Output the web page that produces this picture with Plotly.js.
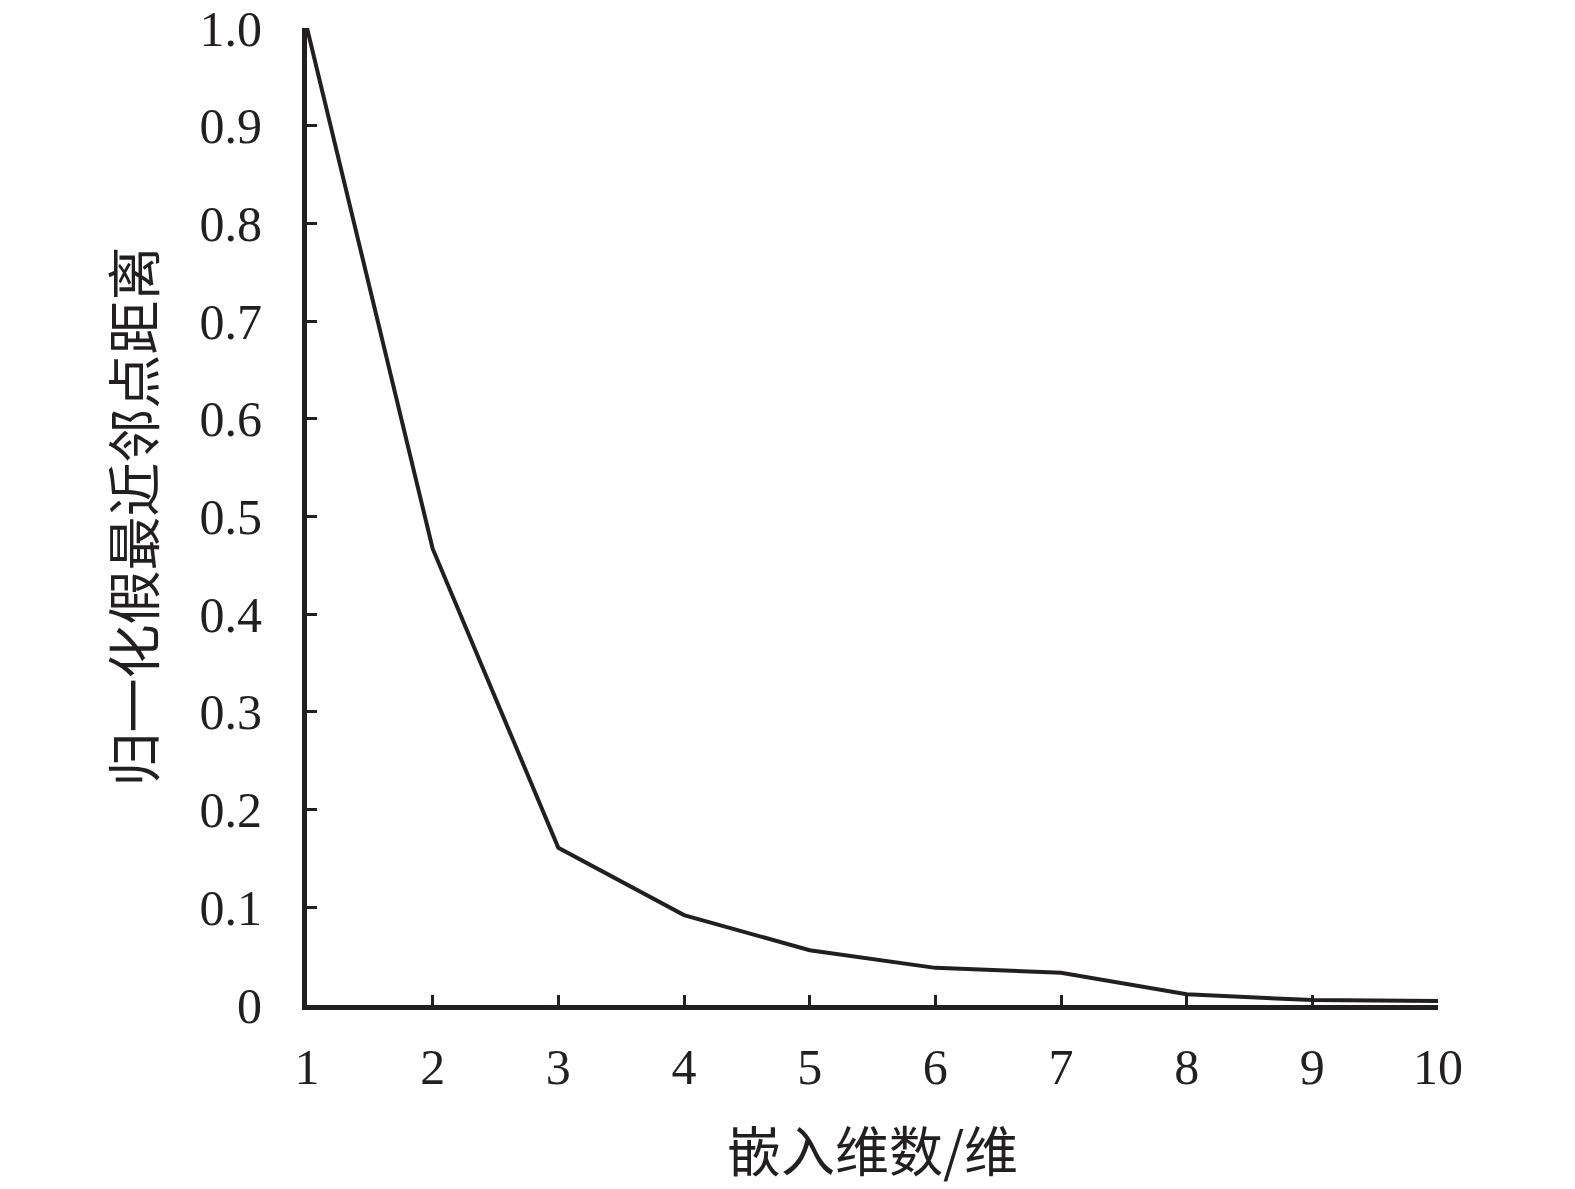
<!DOCTYPE html>
<html>
<head>
<meta charset="utf-8">
<script src="https://cdn.plot.ly/plotly-3.0.1.min.js"></script>
<style>html,body{margin:0;padding:0;background:#fff;}#chart{width:1575px;height:1189px;}</style>
</head>
<body>
<div id="chart"></div>
<script>
const dims = [1, 2, 3, 4, 5, 6, 7, 8, 9, 10];
const fnnValues = [1.0, 0.467, 0.161, 0.092, 0.056, 0.038, 0.033, 0.011, 0.005, 0.004];
const yTickVals = [0, 0.1, 0.2, 0.3, 0.4, 0.5, 0.6, 0.7, 0.8, 0.9, 1.0];
const yTickText = ["0", "0.1", "0.2", "0.3", "0.4", "0.5", "0.6", "0.7", "0.8", "0.9", "1.0"];
const xTitle = "嵌入维数/维";
const yTitle = "归一化假最近邻点距离";

const fontFam = "Liberation Serif, Noto Sans CJK SC, serif";
const trace = {
  x: dims, y: fnnValues, type: "scatter", mode: "lines",
  line: {color: "#231f20", width: 4},
  cliponaxis: false, hoverinfo: "skip"
};
const layout = {
  width: 1575, height: 1189,
  margin: {l: 307, r: 137, t: 28, b: 184},
  paper_bgcolor: "#fff", plot_bgcolor: "#fff",
  showlegend: false,
  font: {family: fontFam, color: "#231f20"},
  xaxis: {
    range: [1, 10], tickvals: dims, ticktext: dims.map(String),
    ticks: "inside", ticklen: 10, tickwidth: 3, tickcolor: "#231f20",
    showline: true, linewidth: 5, linecolor: "#231f20",
    showgrid: false, zeroline: false, ticklabelstandoff: 14,
    tickfont: {family: fontFam, size: 50, color: "#231f20"},
    title: {text: xTitle, font: {family: "Noto Sans CJK SC", size: 54, color: "#231f20"}, standoff: 42}
  },
  yaxis: {
    range: [0, 1.0], tickvals: yTickVals, ticktext: yTickText,
    ticks: "inside", ticklen: 10, tickwidth: 3, tickcolor: "#231f20",
    showline: true, linewidth: 5, linecolor: "#231f20",
    showgrid: false, zeroline: false, ticklabelstandoff: 30,
    tickfont: {family: fontFam, size: 50, color: "#231f20"},
    title: {text: yTitle, font: {family: "Noto Sans CJK SC", size: 54, color: "#231f20"}, standoff: 28}
  }
};
Plotly.newPlot("chart", [trace], layout, {staticPlot: true});
</script>
</body>
</html>
